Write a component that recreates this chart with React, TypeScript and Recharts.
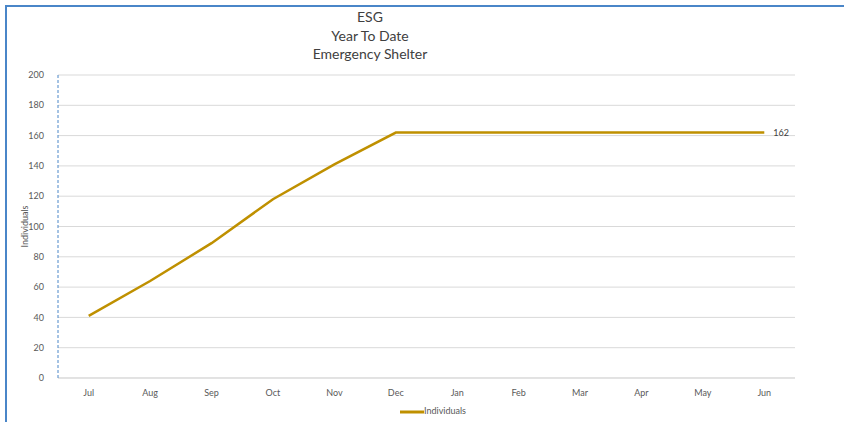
import { LineChart, Line, XAxis, YAxis, CartesianGrid, Legend, LabelList } from 'recharts';

const months = ['Jul', 'Aug', 'Sep', 'Oct', 'Nov', 'Dec', 'Jan', 'Feb', 'Mar', 'Apr', 'May', 'Jun'];
const individuals = [41, 64, 89, 118, 141, 162, 162, 162, 162, 162, 162, 162];
const yTicks = [0, 20, 40, 60, 80, 100, 120, 140, 160, 180, 200];
const titleLines = ['ESG', 'Year To Date', 'Emergency Shelter'];

const data = months.map((m, i) => ({ month: m, individuals: individuals[i] }));

const FONT = 'Lato, "Open Sans", sans-serif';
// half a category band, so points sit in the middle of each month slot
const HALF_BAND = 737 / months.length / 2;

function LastLabel(props: any) {
  const { x, y, value, index } = props;
  if (index !== individuals.length - 1) return null;
  return (
    <text x={x + 9} y={y} dy={3} fontSize={9} fill="#404040" fontFamily={FONT}>
      {value}
    </text>
  );
}

export default function App() {
  return (
    <div
      style={{
        position: 'fixed',
        left: 0,
        top: 0,
        width: 844,
        height: 422,
        background: '#fff',
        fontFamily: FONT,
        overflow: 'hidden',
      }}
    >
      {/* partial chart frame */}
      <div
        style={{
          position: 'absolute',
          left: 5,
          top: 5,
          width: 850,
          height: 430,
          borderTop: '2px solid #4a86c8',
          borderLeft: '2px solid #4a86c8',
        }}
      />
      <div
        style={{
          position: 'absolute',
          left: 270,
          top: 8,
          width: 200,
          textAlign: 'center',
          fontSize: 14,
          lineHeight: '18.5px',
          color: '#404040',
        }}
      >
        {titleLines.map((t) => (
          <div key={t}>{t}</div>
        ))}
      </div>
      <div style={{ position: 'absolute', left: 0, top: 0 }}>
        <LineChart width={844} height={422} data={data} margin={{ top: 75, right: 49, left: 0, bottom: 4 }}>
          <CartesianGrid vertical={false} stroke="#d9d9d9" />
          <XAxis
            dataKey="month"
            height={22}
            padding={{ left: HALF_BAND, right: HALF_BAND }}
            tickLine={false}
            axisLine={{ stroke: '#d9d9d9' }}
            tick={{ fontSize: 9, fill: '#595959', fontFamily: FONT }}
            tickMargin={6}
          />
          <YAxis
            width={58}
            domain={[0, 200]}
            ticks={yTicks}
            interval={0}
            tickLine={false}
            axisLine={{ stroke: '#4a86c8', strokeDasharray: '3 2' }}
            tick={{ fontSize: 9, fill: '#595959', fontFamily: FONT }}
            tickMargin={8}
            label={{
              value: 'Individuals',
              angle: -90,
              position: 'insideLeft',
              offset: 25,
              style: { fontSize: 9, fill: '#595959', fontFamily: FONT, textAnchor: 'middle' },
            }}
          />
          <Legend
            verticalAlign="bottom"
            height={18}
            iconType="plainline"
            iconSize={24}
            wrapperStyle={{ fontSize: 9, color: '#595959', fontFamily: FONT, left: 16, width: 844 }}
            formatter={(v) => <span style={{ color: '#595959', marginLeft: -4 }}>{v}</span>}
          />
          <Line
            type="linear"
            dataKey="individuals"
            name="Individuals"
            stroke="#bf9000"
            strokeWidth={2.5}
            dot={false}
            isAnimationActive={false}
          >
            <LabelList dataKey="individuals" content={<LastLabel />} />
          </Line>
        </LineChart>
      </div>
    </div>
  );
}
